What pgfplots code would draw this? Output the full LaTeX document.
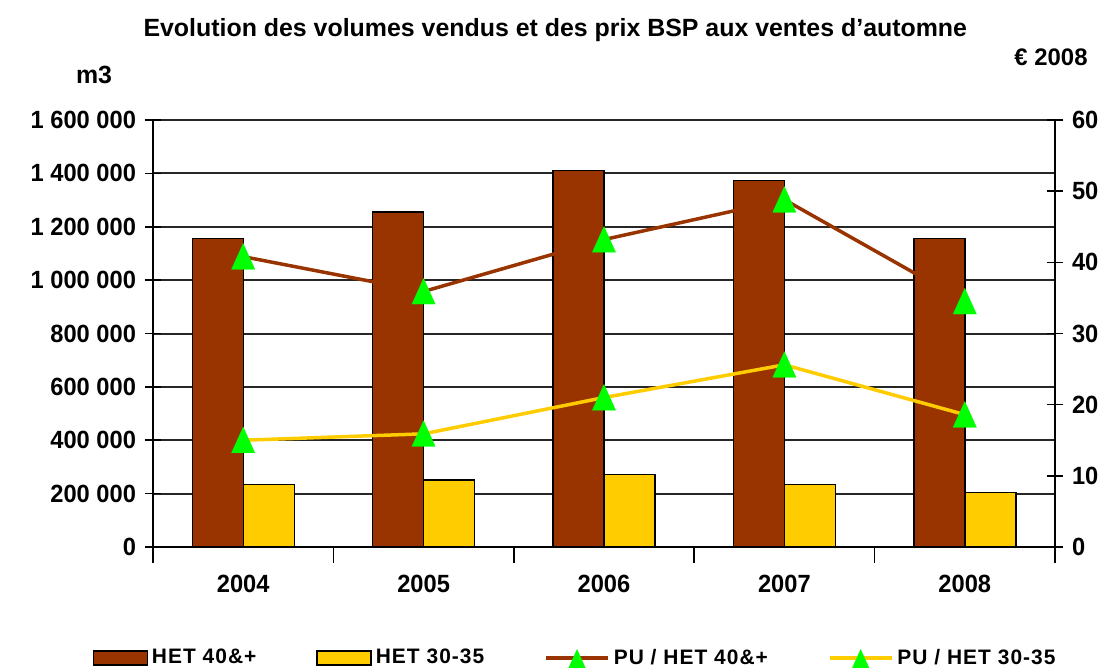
\documentclass[border=0pt]{standalone}
\usepackage{fontspec}
\setmainfont{Liberation Sans}
\newfontfamily\cond{Liberation Sans}[FakeStretch=0.95]
\usepackage{pgfplots}
\pgfplotsset{compat=1.18}

\definecolor{brn}{RGB}{153,51,0}
\definecolor{ylw}{RGB}{255,204,0}
\definecolor{grn}{RGB}{0,255,0}

\pgfplotsset{
  common/.style={
    scale only axis, width=451bp, height=213.5bp,
    xmin=-0.5, xmax=4.5,
    tick align=center, major tick length=8bp, minor tick length=8bp,
    every tick/.style={black, line width=0.8bp},
    axis line style={black, line width=1bp},
    /pgf/number format/assume math mode=true,
    ticklabel style={font=\cond\bfseries\fontsize{12.5}{13}\selectfont},
  },
  barimg/.style={legend image code/.code={\draw[##1, line width=0.7bp] (0bp,-3.5bp) rectangle (27bp,3.5bp);}},
  lineimg/.style={legend image code/.code={\draw[mark repeat=2, mark phase=2, ##1, sharp plot, mark size=5.5bp] plot coordinates {(0bp,0bp) (15.5bp,0bp) (31bp,0bp)};}},
  tri/.style={mark=triangle*, mark size=7.5bp, mark options={solid, yshift=-2bp, xscale=0.9, yscale=1.15, fill=grn, draw=grn, line width=0.1bp}},
}

\begin{document}
\begin{tikzpicture}
\begin{axis}[common, name=a,
  ymin=0, ymax=1600000,
  ybar=0pt, bar width=25.5bp,
  axis x line*=bottom, axis y line*=left,
  xtick={0,1,2,3,4}, xticklabels={2004,2005,2006,2007,2008},
  major x tick style={draw=none},
  minor xtick={-0.5,0.5,1.5,2.5,3.5,4.5},
  xticklabel style={yshift=-2.5bp},
  ytick={0,200000,400000,600000,800000,1000000,1200000,1400000,1600000},
  yticklabels={0,200 000,400 000,600 000,800 000,1 000 000,1 200 000,1 400 000,1 600 000},
  scaled y ticks=false,
  yticklabel style={xshift=-1bp},
  ymajorgrids, major grid style={black!85, line width=1bp},
  legend columns=4,
  legend style={at={(axis description cs:0.469,-0.26)}, anchor=center, draw=none, fill=none,
    font=\bfseries\fontsize{10.5}{12}\selectfont\addfontfeatures{LetterSpace=5},
    /tikz/every odd column/.append style={column sep=0bp},
    /tikz/every even column/.append style={column sep=28bp}},
  clip=false,
]
\addplot[fill=brn, draw=black, line width=0.7bp, barimg] coordinates {(0,1156000) (1,1255000) (2,1411000) (3,1374000) (4,1156000)};
\addlegendentry{HET 40\&+}
\addplot[fill=ylw, draw=black, line width=0.7bp, barimg] coordinates {(0,235000) (1,251000) (2,271000) (3,235000) (4,204000)};
\addlegendentry{HET 30-35}
\addlegendimage{brn, line width=1.75bp, tri, lineimg}
\addlegendentry{PU / HET 40\&+}
\addlegendimage{ylw, line width=1.75bp, tri, lineimg}
\addlegendentry{PU / HET 30-35}

\node[font=\bfseries\fontsize{12.5}{13}\selectfont] at (axis description cs:0.446,1.211) {Evolution des volumes vendus et des prix BSP aux ventes d'automne};
\node[font=\bfseries\fontsize{12.5}{13}\selectfont] at (axis description cs:-0.0654,1.105) {m3};
\node[font=\bfseries\fontsize{12}{13}\selectfont] at (axis description cs:0.9956,1.1475) {€ 2008};
\end{axis}

\begin{axis}[common,
  ymin=0, ymax=60,
  axis x line=none, axis y line*=right,
  ytick={0,10,20,30,40,50,60},
  yticklabel style={xshift=1bp},
  clip=false,
]
\addplot[brn, line width=1.75bp, tri] coordinates {(0,40.8) (1,35.9) (2,43.2) (3,48.8) (4,34.5)};
\addplot[ylw, line width=1.75bp, tri] coordinates {(0,15.0) (1,15.9) (2,21.0) (3,25.6) (4,18.6)};
\end{axis}

\pgfresetboundingbox
\path[use as bounding box] ([shift={(-76.5bp,-60.5bp)}]a.south west) rectangle ([shift={(476.5bp,273.5bp)}]a.south west);
\end{tikzpicture}
\end{document}
